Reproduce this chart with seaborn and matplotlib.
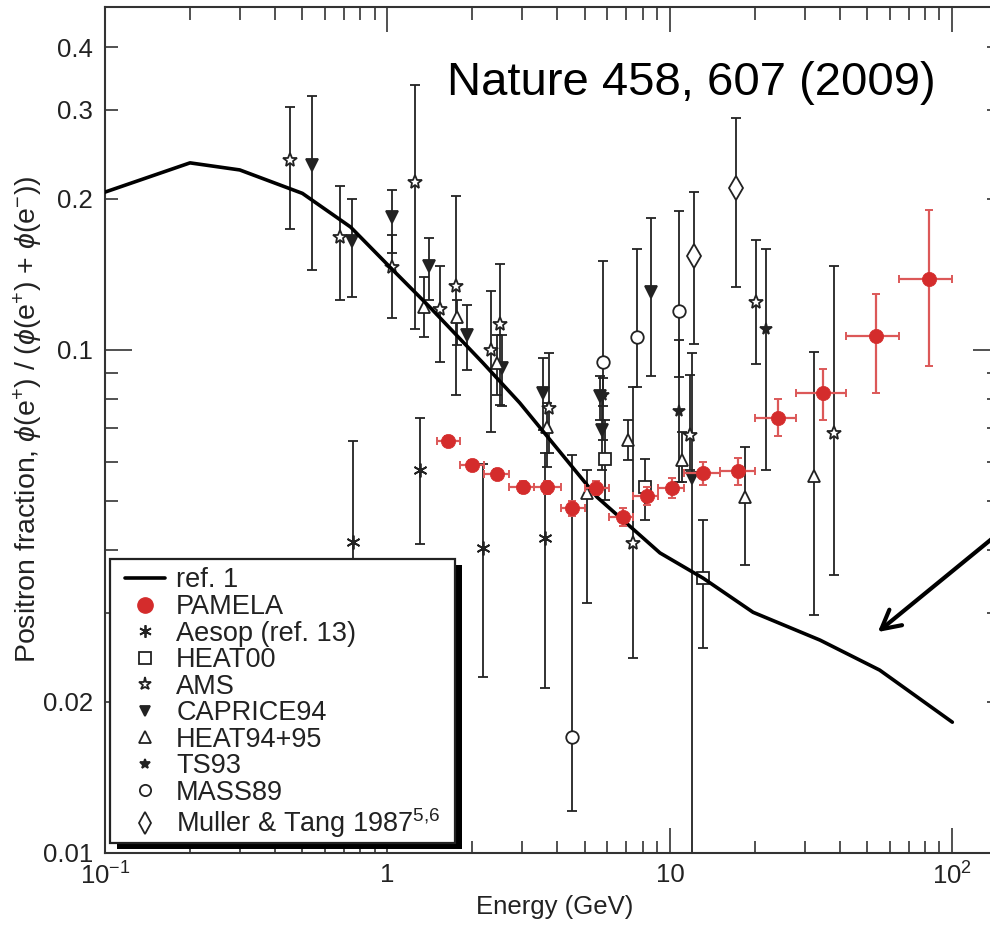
import numpy as np
import matplotlib
matplotlib.use("Agg")
import matplotlib.pyplot as plt
from matplotlib.lines import Line2D
from matplotlib.patches import Rectangle
from matplotlib.ticker import LogLocator, FuncFormatter, NullFormatter, FixedLocator
import seaborn as sns

sns.set_theme(style="ticks")
plt.rcParams["font.family"] = ["Liberation Sans", "DejaVu Sans"]
plt.rcParams["mathtext.fontset"] = "custom"
plt.rcParams["mathtext.rm"] = "Liberation Sans"
plt.rcParams["mathtext.it"] = "Liberation Sans:italic"
plt.rcParams["mathtext.bf"] = "Liberation Sans:bold"

# ---- secondary production model (ref. 1) ----
ref_energy = [0.1, 0.2, 0.3, 0.5, 0.74, 1.02, 1.41, 2.18, 2.94, 5.52, 9.22, 13.1, 19.7, 34.0, 55.3, 100.0]
ref_fraction = [0.206, 0.2355, 0.228, 0.2048, 0.1756, 0.1462, 0.1218, 0.0942, 0.0785, 0.0510,
                0.0395, 0.0352, 0.0301, 0.0265, 0.0231, 0.0182]

# ---- PAMELA ----
pamela_bin_edges = [1.5, 1.8, 2.2, 2.7, 3.3, 4.1, 5.0, 6.1, 7.4, 9.1, 11.2, 15.0, 20.0, 28.0, 42.0, 65.0, 100.0]
pamela_energy = [1.64, 1.99, 2.44, 3.02, 3.67, 4.50, 5.47, 6.82, 8.29, 10.2, 13.1, 17.4, 24.1, 34.8, 53.6, 82.6]
pamela_fraction = [0.0659, 0.0591, 0.0567, 0.0534, 0.0534, 0.0485, 0.0532, 0.0466, 0.0513, 0.0532,
                   0.0569, 0.0575, 0.0733, 0.0821, 0.1066, 0.1384]
pamela_err_low = [0.0015, 0.0014, 0.0014, 0.0015, 0.0016, 0.0017, 0.0018, 0.0020, 0.0022, 0.0025,
                  0.0030, 0.0035, 0.0058, 0.0095, 0.0245, 0.0455]
pamela_err_high = [0.0015, 0.0014, 0.0014, 0.0015, 0.0016, 0.0017, 0.0018, 0.0020, 0.0022, 0.0025,
                   0.0030, 0.0035, 0.0066, 0.0096, 0.0226, 0.0514]

# ---- earlier measurements: energy, fraction, lower bound, upper bound ----
aesop_energy = [0.755, 1.30, 2.18, 3.61]
aesop_fraction = [0.0415, 0.0577, 0.0404, 0.0423]
aesop_low = [0.0238, 0.0411, 0.0224, 0.0213]
aesop_high = [0.0659, 0.0732, 0.0593, 0.0624]

heat00_energy = [5.89, 8.16, 13.1]
heat00_fraction = [0.0607, 0.0534, 0.0352]
heat00_low = [0.0503, 0.0459, 0.0256]
heat00_high = [0.0726, 0.0607, 0.0459]

ams_energy = [0.452, 0.679, 1.04, 1.25, 1.53, 1.75, 2.32, 2.50, 3.73, 7.40, 11.8, 20.2, 38.1]
ams_fraction = [0.2387, 0.1677, 0.1462, 0.2158, 0.1206, 0.134, 0.100, 0.1126, 0.0767, 0.0413,
                0.0678, 0.1246, 0.0684]
ams_low = [0.174, 0.1257, 0.1158, 0.1101, 0.0947, 0.0814, 0.0687, 0.0778, 0.0624, 0.0244,
           0.0577, 0.0938, 0.0357]
ams_high = [0.304, 0.2119, 0.1693, 0.337, 0.1469, 0.2024, 0.131, 0.1483, 0.0986, 0.0844,
            0.0892, 0.1655, 0.1469]

caprice_energy = [0.541, 0.748, 1.04, 1.40, 1.91, 2.54, 3.55, 5.65, 5.75, 8.57, 11.97]
caprice_fraction = [0.2333, 0.1647, 0.1838, 0.1469, 0.1071, 0.0921, 0.0821, 0.0810, 0.0693, 0.1304, 0.0557]
caprice_low = [0.1442, 0.1274, 0.156, 0.1257, 0.0912, 0.0774, 0.0693, 0.0726, 0.0577, 0.0888, 0.0095]
caprice_high = [0.320, 0.1996, 0.208, 0.167, 0.1229, 0.1071, 0.0964, 0.0888, 0.0810, 0.183, 0.0986]

heat9495_energy = [1.35, 1.76, 2.44, 3.67, 5.08, 7.10, 11.0, 18.4, 32.3]
heat9495_fraction = [0.1218, 0.1163, 0.0942, 0.0703, 0.0519, 0.0662, 0.0604, 0.0510, 0.0562]
heat9495_low = [0.1061, 0.1023, 0.0814, 0.0585, 0.0314, 0.0604, 0.0547, 0.0374, 0.0297]
heat9495_high = [0.1397, 0.1257, 0.1071, 0.0785, 0.0577, 0.0726, 0.0687, 0.0641, 0.0991]

ts93_energy = [5.79, 10.8, 21.9]
ts93_fraction = [0.0814, 0.0756, 0.1101]
ts93_low = [0.0662, 0.0547, 0.0577]
ts93_high = [0.0880, 0.1047, 0.1588]

mass89_energy = [4.50, 5.79, 7.64, 10.8]
mass89_fraction = [0.0170, 0.0947, 0.1061, 0.1195]
mass89_low = [0.0121, 0.0774, 0.0844, 0.0885]
mass89_high = [0.0618, 0.1503, 0.1588, 0.189]

muller_energy = [12.2, 17.1]
muller_fraction = [0.1538, 0.2100]
muller_low = [0.1028, 0.1334]
muller_high = [0.206, 0.289]

x_tick_values = [0.1, 1, 10, 100]
x_tick_labels = [r"10$^{-1}$", "1", "10", r"10$^{2}$"]
y_labelled_ticks = {0.01: "0.01", 0.02: "0.02", 0.1: "0.1", 0.2: "0.2", 0.3: "0.3", 0.4: "0.4"}

INK = "#222222"
RED = "#d42c2c"
RED_BAR = "#dc5858"

fig = plt.figure(figsize=(9.9, 9.5), dpi=100)
fig.patch.set_facecolor("white")
ax = fig.add_axes([0.10606, 0.10211, 0.90404, 0.89053])
ax.set_facecolor("white")
ax.set_xscale("log")
ax.set_yscale("log")
ax.set_xlim(0.1, 147.5)
ax.set_ylim(0.01, 0.4807)

# (energy, fraction, low, high, marker, size, filled)
black_series = {
    "Aesop (ref. 13)": (aesop_energy, aesop_fraction, aesop_low, aesop_high, (6, 2, 0), 10, True),
    "HEAT00": (heat00_energy, heat00_fraction, heat00_low, heat00_high, "s", 9, False),
    "AMS": (ams_energy, ams_fraction, ams_low, ams_high, "*", 10.5, False),
    "CAPRICE94": (caprice_energy, caprice_fraction, caprice_low, caprice_high, "v", 8, True),
    "HEAT94+95": (heat9495_energy, heat9495_fraction, heat9495_low, heat9495_high, "^", 9, False),
    "TS93": (ts93_energy, ts93_fraction, ts93_low, ts93_high, "*", 8.5, True),
    "MASS89": (mass89_energy, mass89_fraction, mass89_low, mass89_high, "o", 9, False),
    "Muller & Tang 1987$^{5{,}6}$": (muller_energy, muller_fraction, muller_low, muller_high, "d", 12, False),
}

for name, (e, f, lo, hi, mk, ms, filled) in black_series.items():
    f_arr = np.asarray(f)
    yerr = [f_arr - np.asarray(lo), np.asarray(hi) - f_arr]
    ax.errorbar(e, f, yerr=yerr, fmt="none", ecolor=INK, elinewidth=1.3,
                capsize=3.5, capthick=1.3, zorder=2)
    ax.plot(e, f, linestyle="none", marker=mk, markersize=ms,
            markerfacecolor=INK if filled else "white", markeredgecolor=INK,
            markeredgewidth=1.3, zorder=2.5)

# model curve
sns.lineplot(x=ref_energy, y=ref_fraction, ax=ax, color="black", linewidth=2.6,
             sort=False, estimator=None, zorder=3)

# PAMELA with energy-bin widths
pe = np.asarray(pamela_energy)
edges = np.asarray(pamela_bin_edges)
xerr = [pe - edges[:-1], edges[1:] - pe]
ax.errorbar(pamela_energy, pamela_fraction, xerr=xerr, yerr=[pamela_err_low, pamela_err_high],
            fmt="none", ecolor=RED_BAR, elinewidth=1.6, capsize=3, capthick=1.4, zorder=4)
sns.scatterplot(x=pamela_energy, y=pamela_fraction, ax=ax, color=RED, s=105,
                edgecolor=RED, linewidth=0.5, zorder=5, legend=False)

# axes, ticks
for side in ax.spines.values():
    side.set_color("#333333")
    side.set_linewidth(1.5)
ax.spines["right"].set_visible(False)

ax.xaxis.set_major_locator(FixedLocator(x_tick_values))
ax.set_xticklabels(x_tick_labels)
ax.xaxis.set_minor_locator(LogLocator(base=10, subs=np.arange(2, 10) * 1.0, numticks=30))
ax.xaxis.set_minor_formatter(NullFormatter())

ax.yaxis.set_major_locator(FixedLocator([0.01, 0.1]))
ax.yaxis.set_major_formatter(FuncFormatter(lambda v, p: y_labelled_ticks.get(round(v, 4), "")))
ax.yaxis.set_minor_locator(LogLocator(base=10, subs=np.arange(2, 10) * 1.0, numticks=30))
ax.yaxis.set_minor_formatter(FuncFormatter(lambda v, p: y_labelled_ticks.get(round(v, 4), "")))

ax.tick_params(which="both", direction="in", top=True, right=True, colors="#333333",
               labelcolor=INK, labelsize=18.5, width=1.2)
ax.tick_params(axis="x", which="major", length=18, pad=7)
ax.tick_params(axis="x", which="minor", length=9, pad=7)
ax.tick_params(axis="y", which="major", length=19.5, pad=8.5)
ax.tick_params(axis="y", which="minor", length=9.5, pad=8.5)

ax.set_xlabel("Energy (GeV)", fontsize=18.5, color=INK)
ax.xaxis.label.set_verticalalignment("center")
ax.xaxis.set_label_coords(0.503, -0.064)
ax.set_ylabel(r"Positron fraction, $\phi$(e$^{+}$) / ($\phi$(e$^{+}$) + $\phi$(e$^{-}$))",
              fontsize=20.5, color=INK)
ax.yaxis.label.set_rotation_mode("default")
ax.yaxis.label.set_verticalalignment("center")
ax.yaxis.label.set_horizontalalignment("center")
ax.yaxis.set_label_coords(-0.086, 0.512)

# legend box with a drop shadow, entries placed inside it
box_x0, box_x1 = 0.00559, 0.3911
box_y0, box_y1 = 0.01182, 0.3475
sdx, sdy = 7 / 895, 6 / 846
ax.add_patch(Rectangle((box_x0 + sdx, box_y0 - sdy), box_x1 - box_x0, box_y1 - box_y0,
                       transform=ax.transAxes, facecolor="black", edgecolor="none",
                       zorder=4.8, clip_on=False))
ax.add_patch(Rectangle((box_x0, box_y0), box_x1 - box_x0, box_y1 - box_y0,
                       transform=ax.transAxes, facecolor="white", edgecolor="#222222",
                       linewidth=1.6, zorder=4.9, clip_on=False))

handles = [Line2D([], [], color="black", lw=2.6)]
labels = ["ref. 1"]
handles.append(Line2D([], [], ls="none", marker="o", ms=11, color=RED))
labels.append("PAMELA")
for name, (e, f, lo, hi, mk, ms, filled) in black_series.items():
    handles.append(Line2D([], [], ls="none", marker=mk, ms=ms * 0.9,
                          markerfacecolor=INK if filled else "white",
                          markeredgecolor=INK, markeredgewidth=1.3))
    labels.append(name)

leg = ax.legend(handles, labels, loc="upper left", bbox_to_anchor=(0.02235, 0.3375),
                borderaxespad=0, borderpad=0, fontsize=19.5, frameon=False,
                handlelength=1.48, handletextpad=0.41, labelspacing=0.02)
leg.set_zorder(5.5)
for t in leg.get_texts():
    t.set_color(INK)

# citation and pointer
fig.text(447 / 990, 1 - 95 / 950, "Nature 458, 607 (2009)", fontsize=34, color="black",
         ha="left", va="baseline")
ax.annotate("", xy=(54.5, 0.0275), xycoords="data",
            xytext=(1010 / 990, 1 - 524 / 950), textcoords="figure fraction",
            arrowprops=dict(arrowstyle="->,head_length=0.67,head_width=0.36",
                            color="black", lw=3.0, mutation_scale=20, shrinkA=0, shrinkB=0),
            annotation_clip=False)

fig.savefig("out.png", dpi=100, facecolor="white")
